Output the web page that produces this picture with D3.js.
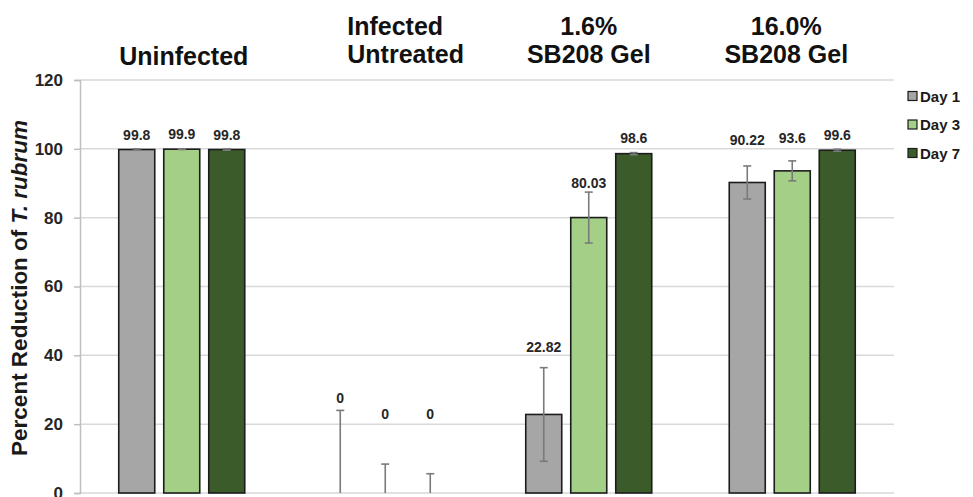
<!DOCTYPE html>
<html>
<head>
<meta charset="utf-8">
<script src="https://cdn.jsdelivr.net/npm/d3@7"></script>
<style>
  html, body { margin: 0; padding: 0; background: #fff; }
  svg { display: block; font-family: "Liberation Sans", Arial, sans-serif; }
</style>
</head>
<body>
<svg id="chart" width="973" height="497"></svg>
<script>
// Treatment groups (title lines) and time points
const categories = ["Uninfected", "Infected Untreated", "1.6% SB208 Gel", "16.0% SB208 Gel"];
const categoryLines = [["Uninfected"], ["Infected", "Untreated"], ["1.6%", "SB208 Gel"], ["16.0%", "SB208 Gel"]];
const series = ["Day 1", "Day 3", "Day 7"];

// Percent reduction per group for each day
const day1 = [99.8, 0, 22.82, 90.22];
const day3 = [99.9, 0, 80.03, 93.6];
const day7 = [99.8, 0, 98.6, 99.6];

// Standard deviation per group for each day
const day1Err = [0.2, 24, 13.6, 4.8];
const day3Err = [0.1, 8.4, 7.4, 2.9];
const day7Err = [0.2, 5.6, 0.3, 0.3];

// Label text per bar
const day1Labels = ["99.8", "0", "22.82", "90.22"];
const day3Labels = ["99.9", "0", "80.03", "93.6"];
const day7Labels = ["99.8", "0", "98.6", "99.6"];

// Height (in axis units) at which each value label sits
const day1LabelAt = [102.6, 26.1, 41.0, 101.1];
const day3LabelAt = [102.8, 21.5, 88.6, 101.7];
const day7LabelAt = [102.6, 21.5, 101.8, 102.6];

const yTicks = [0, 20, 40, 60, 80, 100, 120];

const colors = ["#a6a6a6", "#a3cf86", "#3b5c2a"];

const values = [day1, day3, day7];
const errs = [day1Err, day3Err, day7Err];
const labels = [day1Labels, day3Labels, day7Labels];
const labelAt = [day1LabelAt, day3LabelAt, day7LabelAt];

const svg = d3.select("#chart");
const plotLeft = 80, plotRight = 894, plotTop = 80, plotBottom = 493;

const x = d3.scaleBand().domain(categories).range([plotLeft, plotRight]).padding(0);
const xs = d3.scaleBand().domain(series).range([0, x.bandwidth()])
  .paddingInner(0.2).paddingOuter(0.861);
const y = d3.scaleLinear().domain([0, 120]).range([plotBottom, plotTop]);

// Gridlines
svg.append("g").selectAll("line").data(yTicks).join("line")
  .attr("x1", plotLeft).attr("x2", plotRight)
  .attr("y1", d => y(d)).attr("y2", d => y(d))
  .attr("stroke", "#d9d9d9").attr("stroke-width", 1.5);

// Y axis
const yAxis = svg.append("g").attr("transform", `translate(${plotLeft},0)`)
  .call(d3.axisLeft(y).tickValues(yTicks).tickSize(6).tickPadding(11));
yAxis.select(".domain").attr("stroke", "#bfbfbf").attr("stroke-width", 1.5);
yAxis.selectAll(".tick line").attr("stroke", "#bfbfbf").attr("stroke-width", 1.5);
yAxis.selectAll(".tick text")
  .attr("font-family", "Liberation Sans, Arial, sans-serif")
  .attr("font-size", 17).attr("font-weight", "bold").attr("fill", "#262626");

// Y axis title
const yt = svg.append("text")
  .attr("transform", "translate(27,288) rotate(-90)")
  .attr("text-anchor", "middle")
  .attr("font-size", 22.5).attr("font-weight", "bold").attr("fill", "#1a1a1a");
yt.append("tspan").text("Percent Reduction of ");
yt.append("tspan").attr("font-style", "italic").text("T. rubrum");

// Rows of bar data
const rows = [];
categories.forEach((c, i) => {
  series.forEach((s, j) => {
    rows.push({ c, s, j, v: values[j][i], e: errs[j][i], label: labels[j][i], la: labelAt[j][i] });
  });
});

const bx = d => x(d.c) + xs(d.s);

// Bars
svg.append("g").selectAll("rect").data(rows.filter(d => d.v > 0)).join("rect")
  .attr("x", bx).attr("width", xs.bandwidth())
  .attr("y", d => y(d.v)).attr("height", d => y(0) - y(d.v))
  .attr("fill", d => colors[d.j])
  .attr("stroke", "#1c1c1c").attr("stroke-width", 1.6);

// Error bars
const eg = svg.append("g").attr("stroke", "#7a7a7a").attr("stroke-width", 1.6);
rows.forEach(d => {
  const cx = bx(d) + xs.bandwidth() / 2;
  const hi = y(d.v + d.e), lo = y(Math.max(0, d.v - d.e));
  eg.append("line").attr("x1", cx).attr("x2", cx).attr("y1", hi).attr("y2", lo);
  eg.append("line").attr("x1", cx - 4).attr("x2", cx + 4).attr("y1", hi).attr("y2", hi);
  if (d.v - d.e > 0) {
    eg.append("line").attr("x1", cx - 4).attr("x2", cx + 4).attr("y1", lo).attr("y2", lo);
  }
});

// Value labels
svg.append("g").selectAll("text").data(rows).join("text")
  .attr("x", d => bx(d) + xs.bandwidth() / 2)
  .attr("y", d => y(d.la))
  .attr("text-anchor", "middle")
  .attr("font-size", 14).attr("font-weight", "bold").attr("fill", "#262626")
  .text(d => d.label);

// Group titles: offset from the group centre and text anchor per title box
const titleShift = [2, -38, 0, -6];
const titleAnchor = ["middle", "start", "middle", "middle"];
categoryLines.forEach((lines, i) => {
  const cx = x(categories[i]) + x.bandwidth() / 2 + titleShift[i];
  const t = svg.append("text")
    .attr("font-size", 25).attr("font-weight", "bold").attr("fill", "#111")
    .attr("text-anchor", titleAnchor[i]);
  const base = lines.length === 1 ? 64.5 : 35;
  lines.forEach((ln, k) => {
    t.append("tspan").attr("x", cx).attr("y", base + k * 27.5).text(ln);
  });
});

// Legend
const lg = svg.append("g");
series.forEach((s, j) => {
  const cy = 96 + j * 28.5;
  lg.append("rect").attr("x", 908).attr("y", cy - 4.5).attr("width", 9).attr("height", 9)
    .attr("fill", colors[j]).attr("stroke", "#1c1c1c").attr("stroke-width", 1.2);
  lg.append("text").attr("x", 920).attr("y", cy + 5.5)
    .attr("font-size", 15).attr("font-weight", "bold").attr("fill", "#1a1a1a").text(s);
});
</script>
</body>
</html>
